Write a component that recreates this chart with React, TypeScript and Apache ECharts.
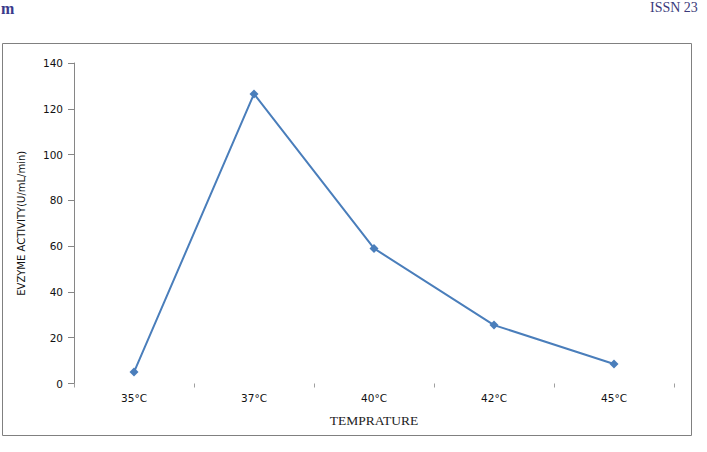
import React, { useEffect, useRef } from "react";
import * as echarts from "echarts";

const categories = ["35°C", "37°C", "40°C", "42°C", "45°C"];
const activity = [5, 126.5, 59, 25.5, 8.5];
const yTicks = { min: 0, max: 140, interval: 20 };

export default function App() {
  const ref = useRef<HTMLDivElement>(null);
  useEffect(() => {
    if (!ref.current) return;
    const chart = echarts.init(ref.current, undefined, { renderer: "svg" });
    chart.setOption({
      animation: false,
      backgroundColor: "#ffffff",
      grid: { left: 74, right: 33, top: 63, bottom: 68.5 },
      graphic: [
        {
          type: "rect",
          shape: { x: 2.5, y: 43.5, width: 689, height: 392 },
          style: { fill: "none", stroke: "#808080", lineWidth: 1 },
          silent: true,
        },
        {
          type: "text",
          left: 1,
          top: 0,
          style: {
            text: "m",
            font: "bold 16px 'Liberation Serif'",
            fill: "#3a3a8c",
          },
        },
        {
          type: "text",
          left: 650,
          top: 0,
          style: {
            text: "ISSN 23",
            font: "14px 'Liberation Serif'",
            fill: "#3a3a7a",
          },
        },
      ],
      xAxis: {
        type: "category",
        data: categories,
        boundaryGap: true,
        name: "TEMPRATURE",
        nameLocation: "middle",
        nameGap: 30,
        nameTextStyle: {
          fontFamily: "Liberation Serif",
          fontSize: 13.5,
          color: "#222",
        },
        axisLine: { show: false },
        axisTick: {
          show: true,
          alignWithLabel: false,
          length: 4,
          inside: false,
          lineStyle: { color: "#a0a0a0" },
        },
        axisLabel: {
          margin: 9,
          fontFamily: "DejaVu Sans",
          fontSize: 10.5,
          color: "#111",
        },
        splitLine: { show: false },
      },
      yAxis: {
        type: "value",
        min: yTicks.min,
        max: yTicks.max,
        interval: yTicks.interval,
        name: "EVZYME ACTIVITY(U/mL/min)",
        nameLocation: "middle",
        nameGap: 48,
        nameTextStyle: {
          fontFamily: "DejaVu Sans",
          fontSize: 10,
          color: "#111",
        },
        axisLine: { show: true, lineStyle: { color: "#868686", width: 1 } },
        axisTick: { show: true, length: 6, lineStyle: { color: "#868686" } },
        axisLabel: {
          margin: 11,
          fontFamily: "DejaVu Sans",
          fontSize: 10.5,
          color: "#111",
        },
        splitLine: { show: false },
      },
      series: [
        {
          type: "line",
          data: activity,
          symbol: "diamond",
          symbolSize: 9,
          lineStyle: { color: "#4a7ebb", width: 2 },
          itemStyle: { color: "#4a7ebb" },
        },
      ],
    });
    return () => chart.dispose();
  }, []);
  return (
    <div
      ref={ref}
      style={{ position: "fixed", left: 0, top: 0, width: 707, height: 452 }}
    />
  );
}
